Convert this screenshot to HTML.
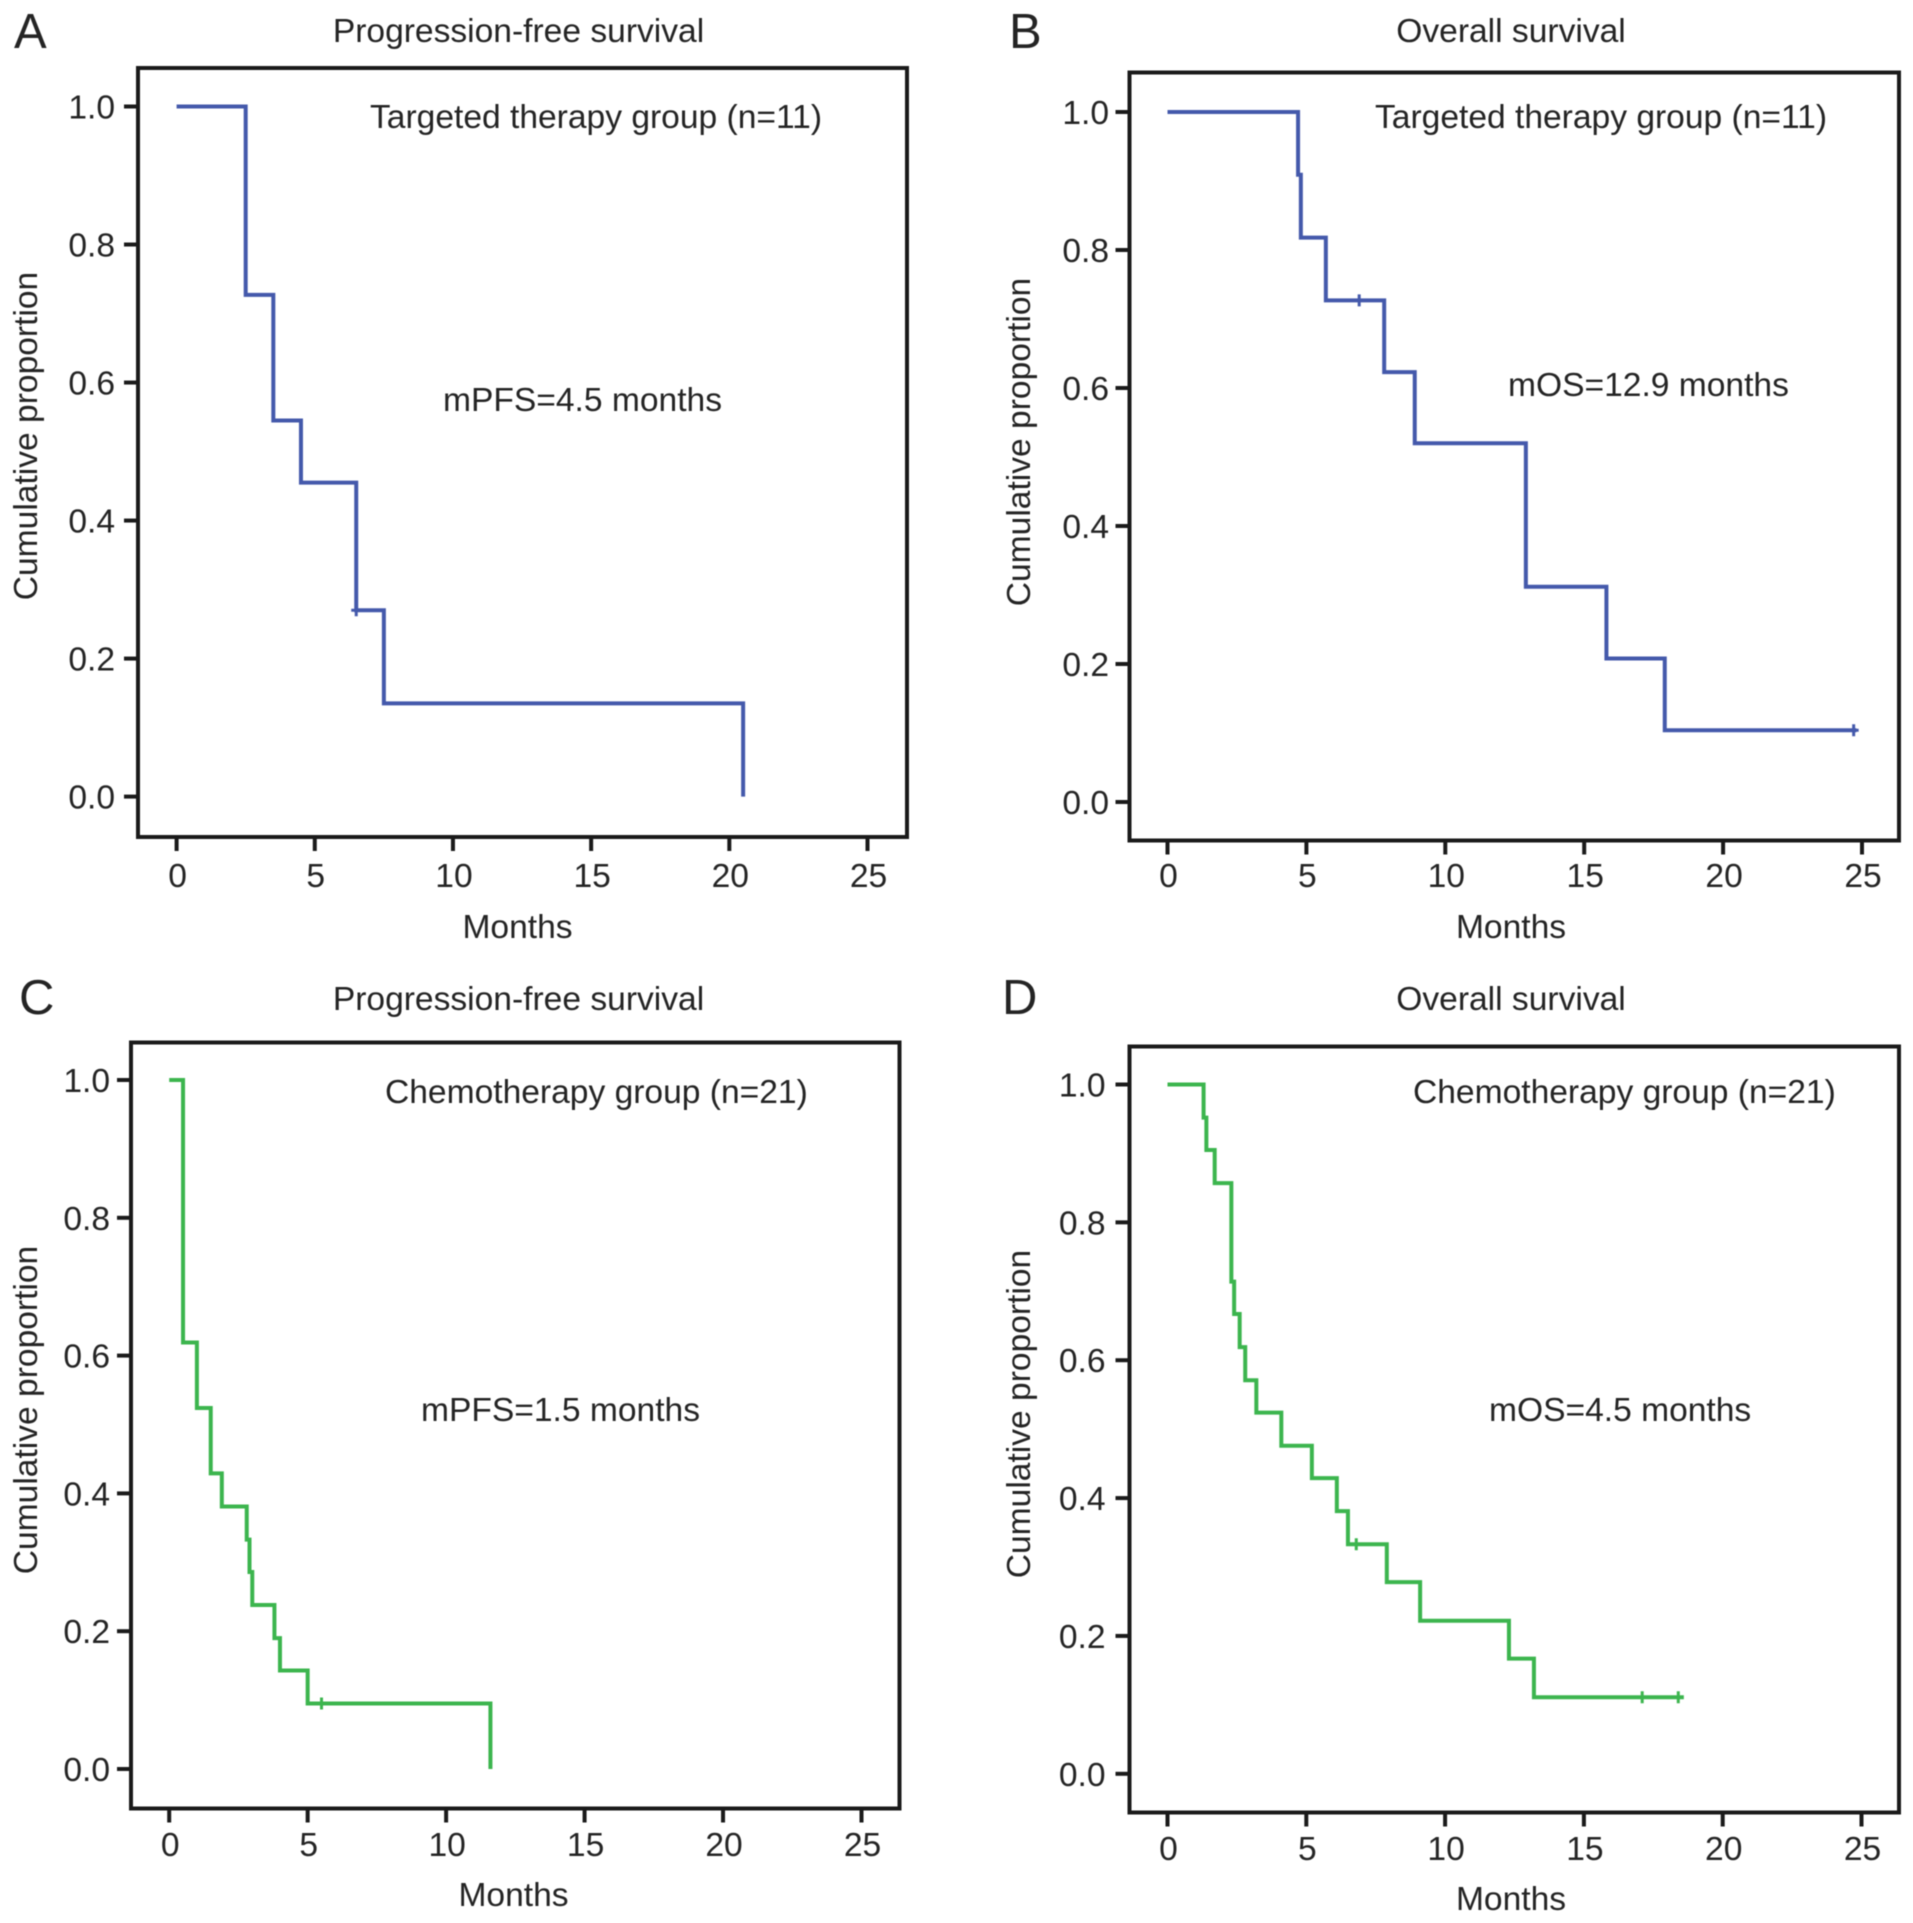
<!DOCTYPE html>
<html lang="en">
<head>
<meta charset="utf-8">
<title>Survival curves</title>
<style>
html,body{margin:0;padding:0;background:#fff;width:1913px;height:1923px;overflow:hidden}
svg{display:block;filter:blur(0.55px)}
text{font-family:"Liberation Sans",sans-serif;fill:#242424}
</style>
</head>
<body>
<svg id="figure" width="1913" height="1923" viewBox="0 0 1913 1923" xmlns="http://www.w3.org/2000/svg"></svg>
<script>
// Tick labels
const monthTicks = [0, 5, 10, 15, 20, 25];
const proportionTicks = [0, 0.2, 0.4, 0.6, 0.8, 1.0];

// Panel A: progression-free survival, targeted therapy
const panelAMonths = [0, 2.5, 3.5, 4.5, 6.5, 7.5, 20.5];
const panelASurvival = [1, 0.727, 0.545, 0.455, 0.27, 0.135, 0];
const panelACensored = [6.5];
const panelAEnd = 20.5;

// Panel B: overall survival, targeted therapy
const panelBMonths = [0, 4.7, 4.8, 5.7, 7.8, 8.9, 12.9, 15.8, 17.9];
const panelBSurvival = [1, 0.909, 0.818, 0.727, 0.623, 0.52, 0.312, 0.208, 0.104];
const panelBCensored = [6.9, 24.7];
const panelBEnd = 24.8;

// Panel C: progression-free survival, chemotherapy
const panelCMonths = [0, 0.5, 1, 1.5, 1.9, 2.8, 2.9, 3, 3.8, 4, 5, 11.6];
const panelCSurvival = [1, 0.619, 0.524, 0.429, 0.381, 0.333, 0.286, 0.238, 0.19, 0.143, 0.095, 0];
const panelCCensored = [5.5];
const panelCEnd = 11.6;

// Panel D: overall survival, chemotherapy
const panelDMonths = [0, 1.3, 1.4, 1.7, 2.3, 2.4, 2.6, 2.8, 3.2, 4.1, 5.2, 6.1, 6.5, 7.9, 9.1, 12.3, 13.2];
const panelDSurvival = [1, 0.952, 0.905, 0.857, 0.714, 0.667, 0.619, 0.571, 0.524, 0.476, 0.429, 0.381, 0.333, 0.278, 0.222, 0.167, 0.111];
const panelDCensored = [6.8, 17.1, 18.4];
const panelDEnd = 18.6;

const panels = [
  {id:'a', letter:'A', letterX:14, letterY:48, title:'Progression-free survival', titleX:518.5, titleY:42,
   group:'Targeted therapy group (n=11)', groupX:370, groupY:128, median:'mPFS=4.5 months', medianX:443, medianY:411,
   left:138, right:907, top:68, bottom:837, x0:176.6, x25:867.5, y1:106.5, y0:796.6,
   xLabelX:517.5, xLabelY:938, yLabelX:37, yLabelY:436, yTickX:115, xTickY:887,
   months:panelAMonths, survival:panelASurvival, censored:panelACensored, end:panelAEnd, color:'#4459ab'},
  {id:'b', letter:'B', letterX:1009, letterY:48, title:'Overall survival', titleX:1511, titleY:42,
   group:'Targeted therapy group (n=11)', groupX:1375, groupY:128, median:'mOS=12.9 months', medianX:1508, medianY:396,
   left:1129.5, right:1899, top:72.5, bottom:840.5, x0:1167.5, x25:1862, y1:112, y0:802,
   xLabelX:1511, xLabelY:938, yLabelX:1030, yLabelY:442, yTickX:1109, xTickY:887,
   months:panelBMonths, survival:panelBSurvival, censored:panelBCensored, end:panelBEnd, color:'#4459ab'},
  {id:'c', letter:'C', letterX:19, letterY:1014, title:'Progression-free survival', titleX:518.5, titleY:1010,
   group:'Chemotherapy group (n=21)', groupX:385, groupY:1103, median:'mPFS=1.5 months', medianX:421, medianY:1421,
   left:131, right:899.5, top:1042.5, bottom:1808.5, x0:169.2, x25:861.5, y1:1080, y0:1769,
   xLabelX:513.5, xLabelY:1906, yLabelX:37, yLabelY:1410, yTickX:110, xTickY:1856,
   months:panelCMonths, survival:panelCSurvival, censored:panelCCensored, end:panelCEnd, color:'#3cb54e'},
  {id:'d', letter:'D', letterX:1002, letterY:1014, title:'Overall survival', titleX:1511, titleY:1010,
   group:'Chemotherapy group (n=21)', groupX:1413, groupY:1103, median:'mOS=4.5 months', medianX:1489, medianY:1421,
   left:1129.5, right:1899, top:1046.5, bottom:1812.5, x0:1167.5, x25:1861.5, y1:1084.5, y0:1773.8,
   xLabelX:1511, xLabelY:1910, yLabelX:1030, yLabelY:1414, yTickX:1105.5, xTickY:1860,
   months:panelDMonths, survival:panelDSurvival, censored:panelDCensored, end:panelDEnd, color:'#3cb54e'}
];

const NS = 'http://www.w3.org/2000/svg';
const figure = document.getElementById('figure');
const FONT = 33.6;

function make(tag, parent, attrs, content) {
  const el = document.createElementNS(NS, tag);
  Object.keys(attrs).forEach(function (k) { el.setAttribute(k, attrs[k]); });
  if (content !== undefined) el.textContent = content;
  parent.appendChild(el);
  return el;
}

function survivalAt(p, month) {
  let s = p.survival[0];
  p.months.forEach(function (m, i) { if (m <= month) s = p.survival[i]; });
  return s;
}

panels.forEach(function (p) {
  const xScale = function (v) { return p.x0 + (p.x25 - p.x0) * v / 25; };
  const yScale = function (v) { return p.y0 + (p.y1 - p.y0) * v; };

  const g = make('g', figure, {});
  
  

  const letter = make('text', g, {x: p.letterX, y: p.letterY, 'font-size': 49}, p.letter);
  
  

  const title = make('text', g, {x: p.titleX, y: p.titleY, 'font-size': FONT, 'text-anchor': 'middle'}, p.title);
  
  

  const frame = make('rect', g, {x: p.left, y: p.top, width: p.right - p.left, height: p.bottom - p.top, fill: 'none', stroke: '#1a1a1a', 'stroke-width': 4});
  
  

  monthTicks.forEach(function (t) {
    const tick = make('line', g, {x1: xScale(t), x2: xScale(t), y1: p.bottom, y2: p.bottom + 14, stroke: '#1a1a1a', 'stroke-width': 4});
    
    
    const label = make('text', g, {x: xScale(t) + 1, y: p.xTickY, 'font-size': FONT, 'text-anchor': 'middle'}, String(t));
    
    
  });

  proportionTicks.forEach(function (t) {
    const tick = make('line', g, {x1: p.left - 14, x2: p.left, y1: yScale(t), y2: yScale(t), stroke: '#1a1a1a', 'stroke-width': 4});
    
    
    const label = make('text', g, {x: p.yTickX, y: yScale(t) + 12, 'font-size': FONT, 'text-anchor': 'end'}, t.toFixed(1));
    
    
  });

  const xLabel = make('text', g, {x: p.xLabelX, y: p.xLabelY, 'font-size': FONT, 'text-anchor': 'middle'}, 'Months');
  
  

  const yLabel = make('text', g, {x: 0, y: 0, 'font-size': FONT, 'text-anchor': 'middle', transform: 'translate(' + p.yLabelX + ' ' + p.yLabelY + ') rotate(-90)'}, 'Cumulative proportion');
  
  

  const group = make('text', g, {x: p.groupX, y: p.groupY, 'font-size': FONT}, p.group);
  
  

  const median = make('text', g, {x: p.medianX, y: p.medianY, 'font-size': FONT}, p.median);
  
  

  let d = 'M' + xScale(p.months[0]) + ' ' + yScale(p.survival[0]);
  for (let i = 1; i < p.months.length; i++) {
    d += ' H' + xScale(p.months[i]) + ' V' + yScale(p.survival[i]);
  }
  d += ' H' + xScale(p.end);
  const curve = make('path', g, {d: d, fill: 'none', stroke: p.color, 'stroke-width': 4, 'stroke-linejoin': 'miter'});
  
  

  p.censored.forEach(function (m) {
    const cx = xScale(m);
    const cy = yScale(survivalAt(p, m));
    const mark = make('path', g, {d: 'M' + (cx - 5) + ' ' + cy + ' H' + (cx + 5) + ' M' + cx + ' ' + (cy - 6) + ' V' + (cy + 6), fill: 'none', stroke: p.color, 'stroke-width': 3});
    
    
  });
});
</script>
</body>
</html>
